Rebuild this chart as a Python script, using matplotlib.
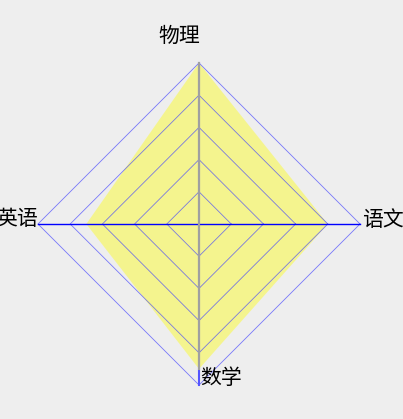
import numpy as np
import matplotlib
matplotlib.use('Agg')
import matplotlib.pyplot as plt

plt.rcParams['font.family'] = ['Noto Sans CJK SC', 'DejaVu Sans']

# 雷达图数据
subjects = ['语文', '物理', '英语', '数学']
scores = [80, 100, 70, 90]
max_score = 100
levels = 5

angles = np.deg2rad([0, 90, 180, 270])

fig = plt.figure(figsize=(4.03, 4.19), dpi=100, facecolor='#eeeeee')
ax = fig.add_axes([0, 0, 1, 1])
ax.set_facecolor('#eeeeee')
ax.set_xlim(-123.6, 126.7)
ax.set_ylim(-121.1, 139.1)
ax.axis('off')

# 网格（菱形）
for i in range(1, levels + 1):
    r = max_score * i / levels
    xs = r * np.cos(np.append(angles, angles[0]))
    ys = r * np.sin(np.append(angles, angles[0]))
    ax.plot(xs, ys, color='#4444ff', linewidth=0.6, alpha=0.7)

# 坐标轴
ax.plot([max_score * np.cos(angles[2]), max_score * np.cos(angles[0])], [0, 0],
        color='#0000ff', linewidth=1.0)
ax.plot([0, 0], [max_score * np.sin(angles[3]), max_score * np.sin(angles[1])],
        color='#5555ff', linewidth=1.5)

# 数据区域
px = np.array(scores) * np.cos(angles)
py = np.array(scores) * np.sin(angles)
ax.fill(px, py, color='#ffff00', alpha=0.4, linewidth=0)
ax.plot([0, 0], [py[3], py[1]], color='#a0a0a0', linewidth=1.5)

# 标签
offsets = [(2, 4), (1, 27), (0, 5), (1, 7)]
aligns = ['left', 'right', 'right', 'left']
for name, a, off, ha in zip(subjects, angles, offsets, aligns):
    ax.annotate(name, (max_score * np.cos(a), max_score * np.sin(a)),
                xytext=off, textcoords='offset pixels',
                ha=ha, va='center', fontsize=15, color='black')

plt.savefig('out.png', dpi=100, facecolor='#eeeeee')
